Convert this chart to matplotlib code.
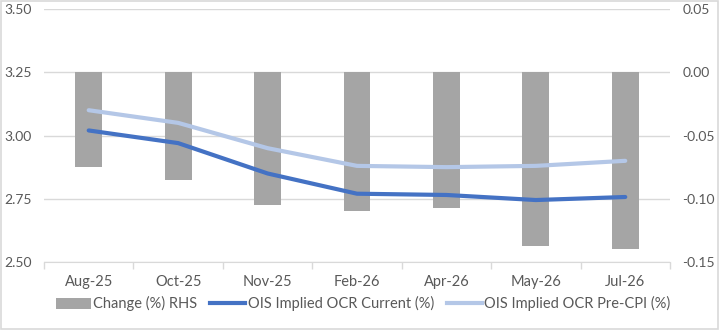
import matplotlib
matplotlib.use('Agg')
import matplotlib.pyplot as plt
import numpy as np
from matplotlib.patches import Patch, Rectangle
from matplotlib.lines import Line2D

### Data ####################################################
months = ['Aug-25', 'Oct-25', 'Nov-25', 'Feb-26', 'Apr-26', 'May-26', 'Jul-26']
change_rhs = [-0.075, -0.085, -0.105, -0.110, -0.107, -0.137, -0.140]
ocr_current = [3.02, 2.97, 2.85, 2.77, 2.765, 2.745, 2.757]
ocr_pre_cpi = [3.10, 3.05, 2.95, 2.88, 2.875, 2.88, 2.90]
#############################################################

plt.rcParams['font.family'] = ['Lato', 'DejaVu Sans']
txt = '#595959'
grid_c = '#D9D9D9'
fs = 10.5
fy = 10

fig = plt.figure(figsize=(7.19, 3.30), dpi=100)
fig.patches.append(Rectangle((0.001, 0.002), 0.997, 0.995, transform=fig.transFigure,
                             fill=False, edgecolor='#D9D9D9', linewidth=1.2))

ax2 = fig.add_axes([0.0612, 0.206, 0.8706, 0.7667])  # bars, right scale
ax = ax2.twinx()  # lines, left scale
ax.set_zorder(ax2.get_zorder() + 1)
ax.patch.set_visible(False)

x = np.arange(len(months))
ax2.bar(x, change_rhs, width=0.30, color='#A5A5A5', zorder=2)
ax2.set_ylim(-0.15, 0.05)
ax2.set_yticks(np.arange(-0.15, 0.051, 0.05))
ax2.set_yticklabels(['%.2f' % v for v in np.arange(-0.15, 0.051, 0.05)])
ax2.yaxis.tick_right()
ax2.grid(axis='y', color=grid_c, linewidth=1)
ax2.set_axisbelow(True)

ax.plot(x, ocr_pre_cpi, color='#B4C7E7', linewidth=3, solid_capstyle='round')
ax.plot(x, ocr_current, color='#4472C4', linewidth=3, solid_capstyle='round')
ax.set_ylim(2.5, 3.5)
ax.set_yticks([2.50, 2.75, 3.00, 3.25, 3.50])
ax.set_yticklabels(['2.50', '2.75', '3.00', '3.25', '3.50'])
ax.yaxis.tick_left()

ax2.set_xlim(-0.5, len(months) - 0.5)
ax2.set_xticks(x)
ax2.set_xticklabels(months)
ax2.set_xticks(np.arange(-0.5, len(months)), minor=True)
ax2.tick_params(axis='x', which='major', length=0, pad=9, labelsize=fs, colors=txt)
ax2.tick_params(axis='x', which='minor', length=5, color=grid_c, width=1)
ax2.tick_params(axis='y', length=0, labelsize=fy, colors=txt, pad=9)
ax.tick_params(axis='y', length=0, labelsize=fy, colors=txt, pad=9)
for a in (ax, ax2):
    for s in a.spines.values():
        s.set_visible(False)
ax2.spines['bottom'].set_visible(True)
ax2.spines['bottom'].set_color(grid_c)

handles = [Patch(facecolor='#A5A5A5', edgecolor='none'),
           Line2D([], [], color='#4472C4', linewidth=3),
           Line2D([], [], color='#B4C7E7', linewidth=3)]
labels = ['Change (%) RHS', 'OIS Implied OCR Current (%)', 'OIS Implied OCR Pre-CPI (%)']
leg = fig.legend(handles, labels, loc='center', bbox_to_anchor=(0.505, 0.079), ncol=3,
                 frameon=False, fontsize=fs, handlelength=2.4, handletextpad=0.15,
                 columnspacing=0.9, handleheight=0.8)
for t in leg.get_texts():
    t.set_color(txt)

plt.savefig('out.png', dpi=100)
plt.close()
